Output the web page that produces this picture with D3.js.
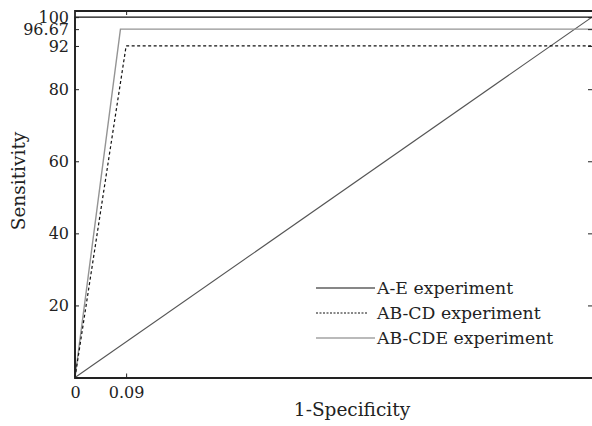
<!DOCTYPE html>
<html>
<head>
<meta charset="utf-8">
<script src="https://cdn.jsdelivr.net/npm/d3@7"></script>
<style>
  body { margin: 0; background: #fff; }
  svg { display: block; font-family: "DejaVu Serif", serif; }
</style>
</head>
<body>
<div id="chart"></div>
<script>
// data (x in the units of the axis labels)
const xMax = 0.91;               // right edge of the plot
const yTicks = [20, 40, 60, 80, 92, 96.67, 100];
const xTicks = [0, 0.09];
const seriesNames = ["A-E experiment", "AB-CD experiment", "AB-CDE experiment"];
const aeX = [0, 0, xMax];
const aeY = [0, 100, 100];
const abcdX = [0, 0.09, xMax];
const abcdY = [0, 92, 92];
const abcdeX = [0, 0.08, xMax];
const abcdeY = [0, 96.67, 96.67];
const chanceX = [0, xMax];
const chanceY = [0, 100];

const width = 592;
const height = 426;
const pLeft = 75, pRight = 592, pTop = 11, pBottom = 377.5;

const x = d3.scaleLinear().domain([0, xMax]).range([pLeft, pRight]);
const y = d3.scaleLinear().domain([0, 101.7]).range([pBottom, pTop]);

const svg = d3.select("#chart")
  .append("svg")
  .attr("width", width)
  .attr("height", height);

const styles = [
  { stroke: "#111", width: 1.4, dash: null },
  { stroke: "#111", width: 1.2, dash: "3,2.5" },
  { stroke: "#949494", width: 1.4, dash: null }
];

const series = [
  d3.zip(aeX, aeY),
  d3.zip(abcdX, abcdY),
  d3.zip(abcdeX, abcdeY)
];

const line = d3.line().x(d => x(d[0])).y(d => y(d[1]));

// chance diagonal
svg.append("path")
  .datum(d3.zip(chanceX, chanceY))
  .attr("d", line)
  .attr("fill", "none")
  .attr("stroke", "#555")
  .attr("stroke-width", 1.1);

// draw the gray one first so the black ones sit on top
[2, 1, 0].forEach(i => {
  svg.append("path")
    .datum(series[i])
    .attr("d", line)
    .attr("fill", "none")
    .attr("stroke", styles[i].stroke)
    .attr("stroke-width", styles[i].width)
    .attr("stroke-dasharray", styles[i].dash);
});

// axes with inward ticks
const yAxis = svg.append("g")
  .attr("transform", `translate(${pLeft},0)`)
  .call(d3.axisLeft(y).tickValues(yTicks).tickSizeInner(-4).tickSizeOuter(0)
    .tickPadding(6).tickFormat(d => d));
yAxis.select(".domain").remove();
yAxis.selectAll("text").attr("font-size", 16).attr("fill", "#222")
  .attr("font-family", "DejaVu Serif");
yAxis.selectAll("line").attr("stroke", "#222");

const yAxisR = svg.append("g")
  .attr("transform", `translate(${pRight},0)`)
  .call(d3.axisRight(y).tickValues(yTicks).tickSizeInner(-4).tickSizeOuter(0)
    .tickFormat(""));
yAxisR.select(".domain").remove();
yAxisR.selectAll("line").attr("stroke", "#222");

const xAxis = svg.append("g")
  .attr("transform", `translate(0,${pBottom})`)
  .call(d3.axisBottom(x).tickValues(xTicks).tickSizeInner(-4).tickSizeOuter(0)
    .tickPadding(9).tickFormat(d => d));
xAxis.select(".domain").remove();
xAxis.selectAll("text").attr("font-size", 16).attr("fill", "#222")
  .attr("font-family", "DejaVu Serif");
xAxis.selectAll("line").attr("stroke", "#222");

const xAxisT = svg.append("g")
  .attr("transform", `translate(0,${pTop})`)
  .call(d3.axisTop(x).tickValues([0.09]).tickSizeInner(-4).tickSizeOuter(0)
    .tickFormat(""));
xAxisT.select(".domain").remove();
xAxisT.selectAll("line").attr("stroke", "#222");

// frame (left, top, bottom)
svg.append("path")
  .attr("d", `M${pRight},${pTop}H${pLeft}V${pBottom + 0.5}H${pRight}`)
  .attr("fill", "none")
  .attr("stroke", "#222")
  .attr("stroke-width", 1.8);

// axis titles
svg.append("text")
  .attr("x", 352)
  .attr("y", 416)
  .attr("text-anchor", "middle")
  .attr("font-size", 18.5)
  .attr("fill", "#222")
  .text("1-Specificity");

svg.append("text")
  .attr("transform", "translate(25,181) rotate(-90)")
  .attr("text-anchor", "middle")
  .attr("font-size", 18.5)
  .attr("fill", "#222")
  .text("Sensitivity");

// legend
const legendY = [288, 313, 338];
const legendLen = [59, 52, 59];
const legend = svg.append("g");
seriesNames.forEach((name, i) => {
  legend.append("line")
    .attr("x1", 316).attr("x2", 316 + legendLen[i])
    .attr("y1", legendY[i]).attr("y2", legendY[i])
    .attr("stroke", i === 2 ? "#777" : styles[i].stroke)
    .attr("stroke-width", i === 1 ? 1 : 1.2)
    .attr("stroke-dasharray", i === 1 ? "2,1.5" : null);
  legend.append("text")
    .attr("x", 377)
    .attr("y", legendY[i] + 6)
    .attr("font-size", 17.3)
    .attr("fill", "#222")
    .text(name);
});
</script>
</body>
</html>
